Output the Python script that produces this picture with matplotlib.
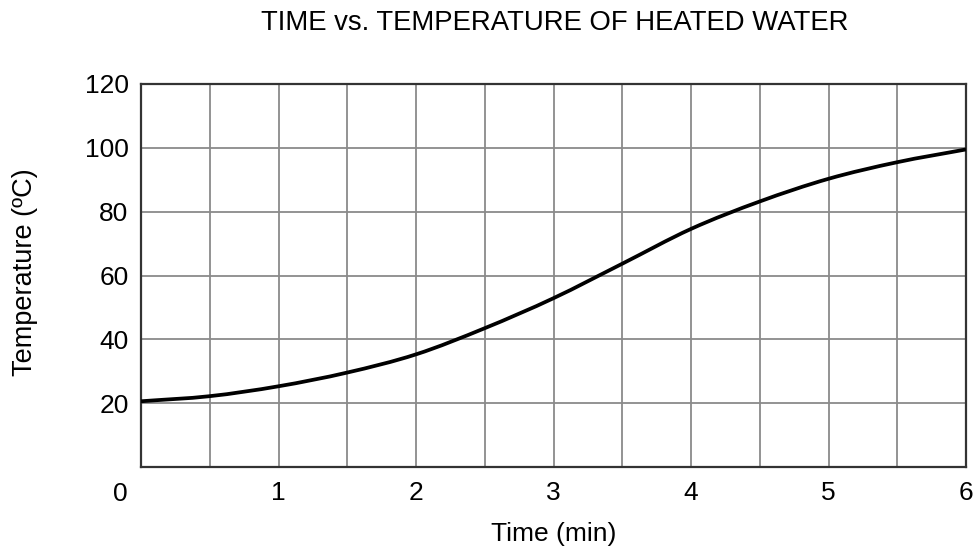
import numpy as np
import matplotlib
matplotlib.use('Agg')
import matplotlib.pyplot as plt
from matplotlib.path import Path
from matplotlib.patches import PathPatch

# time (min) and temperature (C) every half minute
time_min = [0, 0.5, 1, 1.5, 2, 2.5, 3, 3.5, 4, 4.5, 5, 5.5, 6]
temp_c = [20.6, 22.2, 25.3, 29.6, 35.3, 43.5, 52.9, 63.7, 74.6, 83.2, 90.3, 95.5, 99.5]

x_labels = ['1', '2', '3', '4', '5', '6']
y_labels = ['20', '40', '60', '80', '100', '120']

plt.rcParams['font.family'] = ['Liberation Sans', 'DejaVu Sans']

fig = plt.figure(figsize=(9.76, 5.54), dpi=100)
ax = fig.add_axes([0.1445, 0.157, 0.8453, 0.6914])

# smooth curve through the read points (Catmull-Rom as cubic Bezier segments)
pts = np.column_stack([time_min, temp_c])
ext = np.vstack([2 * pts[0] - pts[1], pts, 2 * pts[-1] - pts[-2]])
verts = [tuple(pts[0])]
codes = [Path.MOVETO]
for i in range(1, len(ext) - 2):
    p0, p1, p2, p3 = ext[i - 1], ext[i], ext[i + 1], ext[i + 2]
    verts += [tuple(p1 + (p2 - p0) / 6), tuple(p2 - (p3 - p1) / 6), tuple(p2)]
    codes += [Path.CURVE4] * 3
ax.add_patch(PathPatch(Path(verts, codes), fill=False, edgecolor='black',
                       lw=2.7, capstyle='butt', zorder=3))

ax.set_xlim(0, 6)
ax.set_ylim(0, 120)
ax.set_xticks(np.arange(0, 6.01, 0.5), minor=True)
ax.set_xticks(range(1, 7))
ax.set_xticklabels(x_labels)
ax.set_yticks(range(20, 121, 20))
ax.set_yticklabels(y_labels)
ax.grid(True, which='both', color='#8a8a8a', lw=1.3)
ax.set_axisbelow(True)
ax.tick_params(which='both', length=0, labelsize=19)
ax.tick_params(axis='x', pad=10)
ax.tick_params(axis='y', pad=9)
for s in ax.spines.values():
    s.set_linewidth(1.6)
    s.set_color('#333333')

# shared origin label
ax.annotate('0', xy=(0, 0), xytext=(-21, -27), textcoords='offset pixels',
            ha='center', va='center', fontsize=19)

ax.set_xlabel('Time (min)', fontsize=19, labelpad=12)
fig.text(25 / 976, 1 - 272 / 554, 'Temperature (ºC)', rotation=90,
         ha='center', va='center', fontsize=19.5)
fig.text(0.568, 0.958, 'TIME vs. TEMPERATURE OF HEATED WATER', ha='center',
         va='center', fontsize=19.8)

fig.savefig('out.png', dpi=100)
